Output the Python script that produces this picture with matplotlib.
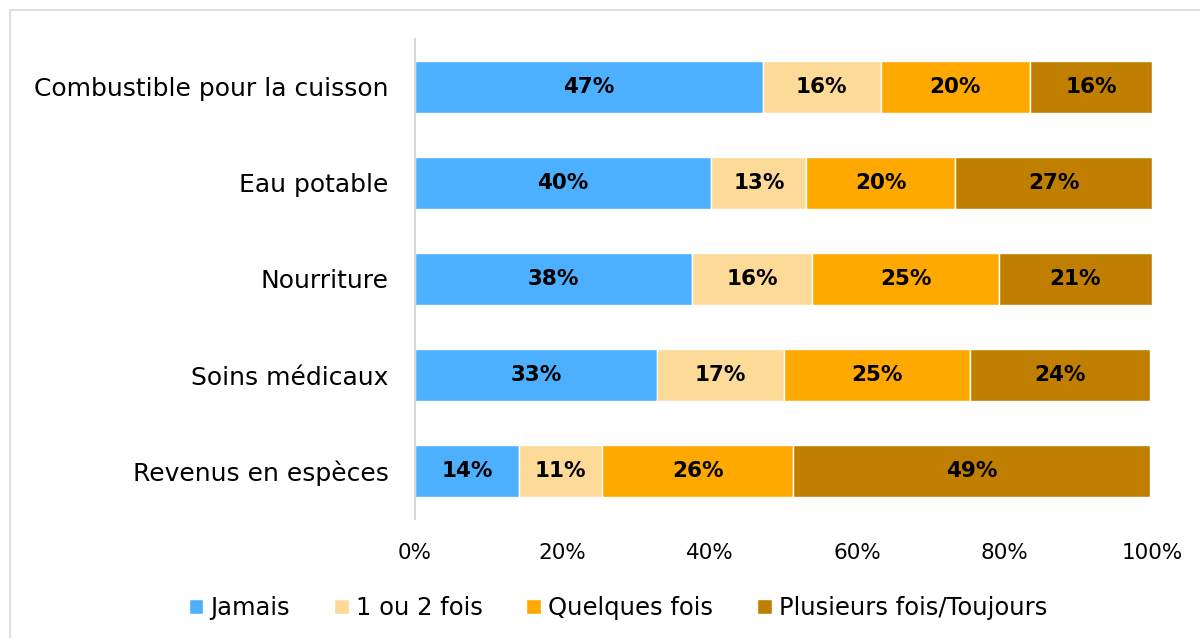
import matplotlib.pyplot as plt
from matplotlib.patches import Rectangle
from matplotlib.ticker import PercentFormatter

plt.rcParams['font.family'] = ['DejaVu Sans']

categories = ['Combustible pour la cuisson', 'Eau potable', 'Nourriture',
              'Soins médicaux', 'Revenus en espèces']
series_names = ['Jamais', '1 ou 2 fois', 'Quelques fois', 'Plusieurs fois/Toujours']
colors = ['#4DB0FF', '#FEDA98', '#FFA900', '#C07F00']

# valeurs estimées d'après la longueur des barres
jamais = [47.2, 40.2, 37.6, 32.8, 14.1]
une_deux = [16.0, 12.9, 16.3, 17.3, 11.3]
quelques = [20.2, 20.2, 25.3, 25.2, 25.9]
plusieurs = [16.6, 26.7, 20.8, 24.4, 48.4]
# étiquettes telles qu'affichées
labels = [
    ['47%', '40%', '38%', '33%', '14%'],
    ['16%', '13%', '16%', '17%', '11%'],
    ['20%', '20%', '25%', '25%', '26%'],
    ['16%', '27%', '21%', '24%', '49%'],
]

values = [jamais, une_deux, quelques, plusieurs]

fig = plt.figure(figsize=(12, 6.38), dpi=100)
ax = fig.add_axes([0.3458, 0.1865, 0.6142, 0.7524])

ypos = list(range(len(categories)))
left = [0.0] * len(categories)
for vals, lab, col, name in zip(values, labels, colors, series_names):
    bars = ax.barh(ypos, vals, left=left, height=0.55, color=col,
                   edgecolor='white', linewidth=1, label=name)
    for b, t in zip(bars, lab):
        ax.text(b.get_x() + b.get_width() / 2, b.get_y() + b.get_height() / 2, t,
                ha='center', va='center', fontsize=15.5, fontweight='bold', color='black')
    left = [l + v for l, v in zip(left, vals)]

ax.set_xlim(0, 100)
ax.set_ylim(len(categories) - 0.5, -0.5)
ax.set_yticks(ypos)
ax.set_yticklabels(categories, fontsize=18)
ax.set_xticks([0, 20, 40, 60, 80, 100])
ax.xaxis.set_major_formatter(PercentFormatter(decimals=0))
ax.tick_params(axis='x', labelsize=15.5, length=0, pad=17)
ax.tick_params(axis='y', length=0, pad=19)
for s in ['top', 'right', 'bottom']:
    ax.spines[s].set_visible(False)
ax.spines['left'].set_color('#D9D9D9')
ax.spines['left'].set_linewidth(1.5)

fig.legend(loc='center', bbox_to_anchor=(0.515, 0.047), ncol=4, frameon=False,
           fontsize=17.5, handlelength=0.6, handleheight=0.6, handletextpad=0.3,
           columnspacing=1.8)

fig.patches.append(Rectangle((10 / 1200, -0.01), 1.0, 1 - 10 / 638 + 0.01,
                             transform=fig.transFigure, fill=False,
                             edgecolor='#D9D9D9', linewidth=1.2))

fig.savefig('out.png', dpi=100)
